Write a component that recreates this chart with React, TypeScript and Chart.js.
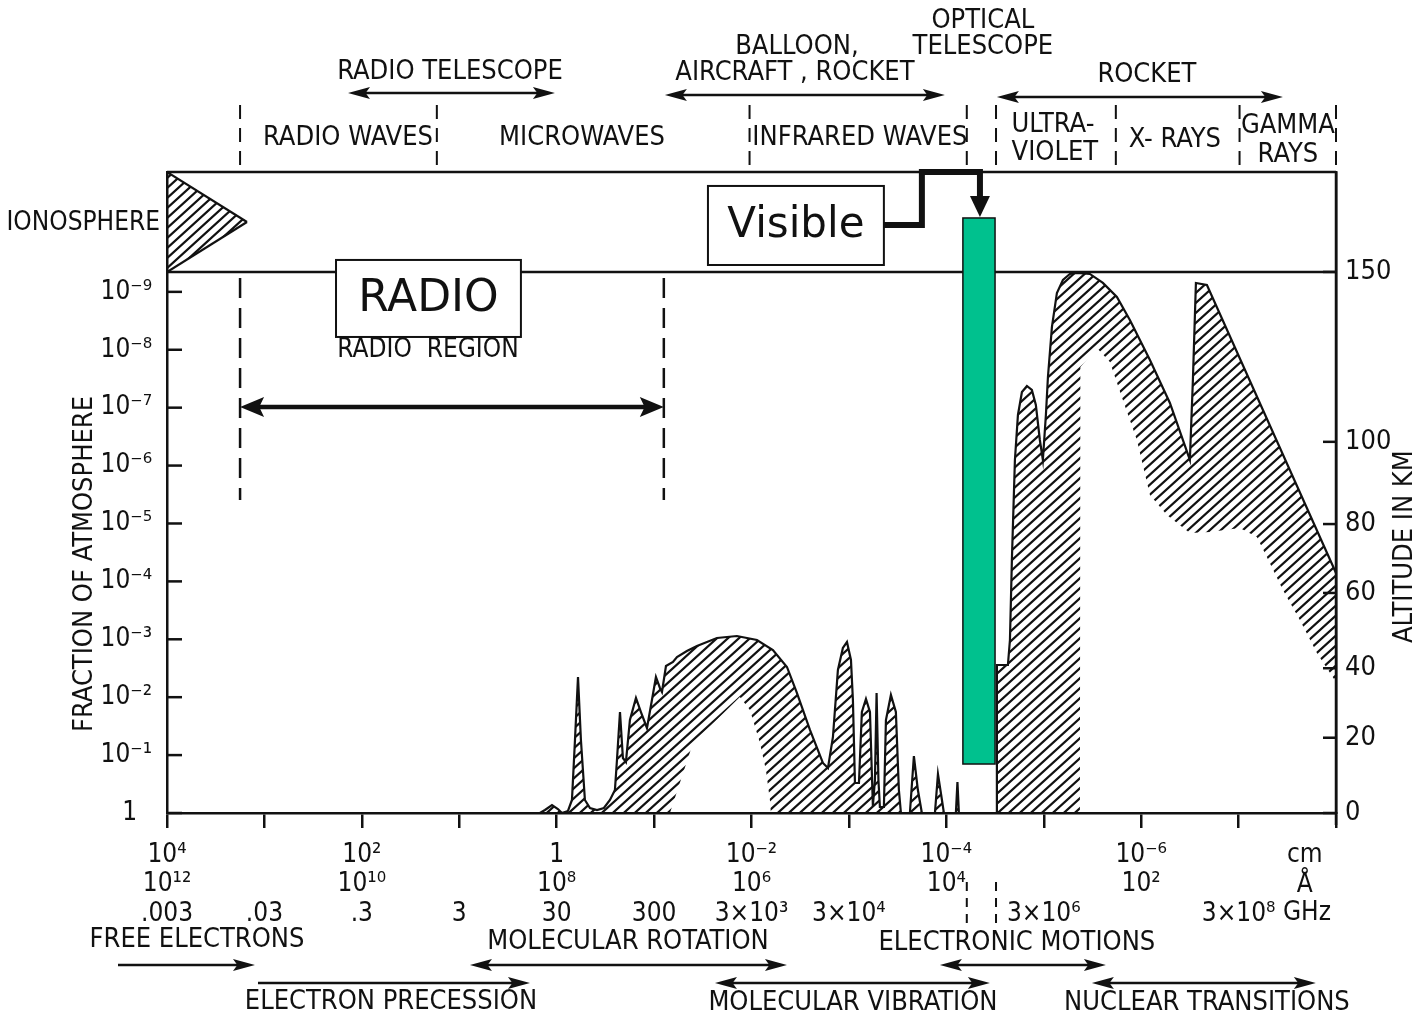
import React, { useEffect, useRef } from "react";
import { Chart, registerables } from "chart.js";

Chart.register(...registerables);

// x = log10(wavelength in cm), y = -log10(fraction of atmosphere above the absorbing layer)
const absorptionLogWavelength = [4.000, 0.172, 0.120, 0.048, -0.013, -0.054, -0.116, -0.157, -0.188, -0.219, -0.249, -0.290, -0.342, -0.414, -0.485, -0.547, -0.598, -0.619, -0.650, -0.680, -0.711, -0.752, -0.814, -0.865, -0.927, -0.978, -1.019, -1.060, -1.081, -1.122, -1.194, -1.235, -1.337, -1.440, -1.645, -1.850, -2.056, -2.220, -2.364, -2.466, -2.600, -2.733, -2.785, -2.836, -2.887, -2.938, -2.980, -3.021, -3.041, -3.062, -3.103, -3.133, -3.175, -3.216, -3.246, -3.267, -3.284, -3.303, -3.318, -3.359, -3.380, -3.431, -3.482, -3.513, -3.534, -3.626, -3.667, -3.708, -3.749, -3.883, -3.914, -3.955, -3.975, -4.098, -4.114, -4.129, -4.514, -4.519, -4.550, -4.632, -4.653, -4.673, -4.704, -4.735, -4.776, -4.827, -4.878, -4.919, -4.960, -4.991, -5.022, -5.043, -5.084, -5.135, -5.197, -5.268, -5.340, -5.474, -5.607, -5.751, -5.884, -6.090, -6.295, -6.500, -6.531, -6.562, -6.675, -8.000];
const absorptionDepth = [0, 0, 0.052, 0.138, 0.069, 0, 0.035, 0.225, 1.261, 2.349, 1.261, 0.225, 0.086, 0.052, 0.086, 0.225, 0.397, 0.915, 1.744, 0.950, 0.881, 1.606, 1.986, 1.744, 1.468, 1.952, 2.349, 2.159, 2.090, 2.539, 2.608, 2.694, 2.798, 2.884, 3.022, 3.057, 2.988, 2.815, 2.522, 2.073, 1.434, 0.864, 0.777, 1.313, 2.470, 2.850, 2.953, 2.642, 1.952, 0.518, 0.518, 1.744, 1.969, 1.744, 0.121, 0.570, 2.073, 0.570, 0.104, 0.104, 1.606, 2.038, 1.744, 0.397, 0, 0, 0.984, 0.397, 0, 0, 0.674, 0.225, 0, 0, 0.535, 0, 0, 2.556, 2.556, 2.556, 2.988, 4.370, 6.097, 6.874, 7.271, 7.375, 7.306, 7.047, 6.442, 6.097, 6.874, 7.530, 8.394, 8.981, 9.206, 9.309, 9.327, 9.309, 9.154, 8.912, 8.515, 7.824, 7.081, 6.097, 7.478, 9.154, 9.119, 4.145];

// lower edge of the hatched band (where hatching stops)
const hatchBottomLogWavelength = [4.000, -1.163, -1.399, -1.881, -1.984, -2.087, -2.148, -2.189, -2.199, -5.371, -5.376, -5.546, -5.679, -5.812, -5.956, -6.090, -6.264, -6.500, -6.705, -7.013, -7.188, -7.290, -7.455, -7.629, -7.804, -8.000];
const hatchBottomDepth = [0, 0, 1.209, 2.003, 1.779, 1.209, 0.743, 0.225, 0, 0, 7.703, 8.031, 7.789, 7.133, 6.442, 5.492, 5.147, 4.836, 4.853, 4.922, 4.767, 4.421, 3.851, 3.333, 2.763, 2.263];

// ionosphere wedge
const ionosphereLogWavelength = [4.0, 3.179];
const ionosphereTopDepth = [11.07, 10.207];
const ionosphereBottomDepth = [9.344, 10.207];

// visible window
const visibleLogWavelength = [-4.17, -4.50];
const visibleDepth = [0.846, 10.276];

// axes
const depthMax = 11.07;
const depthAt150km = 9.344;
const xTickValues = [4, 3, 2, 1, 0, -1, -2, -3, -4, -5, -6, -7, -8];
const cmLabels = ["10⁴", "", "10²", "", "1", "", "10⁻²", "", "10⁻⁴", "", "10⁻⁶", "", ""];
const angstromLabels = ["10¹²", "", "10¹⁰", "", "10⁸", "", "10⁶", "", "10⁴", "", "10²", "", ""];
const ghzLabels = [".003", ".03", ".3", "3", "30", "300", "3×10³", "3×10⁴", "", "3×10⁶", "", "3×10⁸", ""];
const fractionTickDepth = [0, 1, 2, 3, 4, 5, 6, 7, 8, 9];
const fractionLabels = ["1\u2007", "10⁻¹", "10⁻²", "10⁻³", "10⁻⁴", "10⁻⁵", "10⁻⁶", "10⁻⁷", "10⁻⁸", "10⁻⁹"];
const altitudeLabels = ["0", "20", "40", "60", "80", "100", "150"];
const altitudeDepth = [0, 1.30, 2.50, 3.80, 4.99, 6.41, 9.344];

// annotations (x in log10 cm, y in page pixels for text outside the plot)
const topTexts = [
  { t: "RADIO TELESCOPE", v: 1.095, y: 72 },
  { t: "BALLOON,", v: -2.466, y: 47 },
  { t: "AIRCRAFT , ROCKET", v: -2.446, y: 73 },
  { t: "OPTICAL", v: -4.375, y: 21 },
  { t: "TELESCOPE", v: -4.375, y: 47 },
  { t: "ROCKET", v: -6.059, y: 75 },
  { t: "RADIO WAVES", v: 2.142, y: 138 },
  { t: "MICROWAVES", v: -0.26, y: 138 },
  { t: "INFRARED WAVES", v: -3.113, y: 138 },
  { t: "ULTRA-", v: -5.094, y: 125 },
  { t: "VIOLET", v: -5.114, y: 153 },
  { t: "X- RAYS", v: -6.346, y: 140 },
  { t: "GAMMA", v: -7.506, y: 126 },
  { t: "RAYS", v: -7.506, y: 155 },
];
const topArrows = [
  { a: 2.142, b: 0.018, y: 93 },
  { a: -1.111, b: -3.985, y: 95 },
  { a: -4.519, b: -7.455, y: 97 },
];
const bandDividers = [3.25, 1.23, -1.98, -4.21, -4.51, -5.74, -7.01, -8.0];
const bottomTexts = [
  { t: "FREE ELECTRONS", v: 3.692, y: 940 },
  { t: "ELECTRON PRECESSION", v: 1.701, y: 1002 },
  { t: "MOLECULAR ROTATION", v: -0.732, y: 942 },
  { t: "MOLECULAR VIBRATION", v: -3.041, y: 1003 },
  { t: "ELECTRONIC MOTIONS", v: -4.724, y: 943 },
  { t: "NUCLEAR TRANSITIONS", v: -6.675, y: 1003 },
];
const bottomArrows = [
  { a: 4.503, b: 3.097, y: 965, l: false, r: true },
  { a: 3.066, b: 0.274, y: 983, l: false, r: true },
  { a: 0.89, b: -2.364, y: 965, l: true, r: true },
  { a: -1.625, b: -4.447, y: 983, l: true, r: true },
  { a: -3.934, b: -5.638, y: 965, l: true, r: true },
  { a: -5.494, b: -7.793, y: 983, l: true, r: true },
];

const FONT = "'Liberation Sans Narrow', 'Arial Narrow', 'DejaVu Sans Condensed', sans-serif";
const BOX_FONT = "'DejaVu Sans', Verdana, sans-serif";
const INK = "#111";
const GREEN = "#00C18E";

const pts = (xs: number[], ys: number[]) => xs.slice(0, Math.min(xs.length, ys.length)).map((x, i) => ({ x, y: ys[i] }));

function makeHatch(): CanvasPattern | string {
  const w = 11, h = 10;
  const c = document.createElement("canvas");
  c.width = w; c.height = h;
  const g = c.getContext("2d");
  if (!g) return "rgba(0,0,0,0.3)";
  g.strokeStyle = INK;
  g.lineWidth = 2.2;
  g.beginPath();
  g.moveTo(-w, 2 * h); g.lineTo(2 * w, -h);
  g.moveTo(-w, h); g.lineTo(w, -h);
  g.moveTo(0, 2 * h); g.lineTo(2 * w, 0);
  g.stroke();
  return g.createPattern(c, "repeat") || "rgba(0,0,0,0.3)";
}

function text(ctx: CanvasRenderingContext2D, s: string, x: number, y: number, size: number, align: CanvasTextAlign = "center", family = FONT) {
  ctx.font = `${size}px ${family}`;
  ctx.textAlign = align;
  ctx.textBaseline = "middle";
  ctx.fillStyle = INK;
  ctx.fillText(s, x, y);
}

function hArrow(ctx: CanvasRenderingContext2D, x1: number, x2: number, y: number, lw: number, left: boolean, right: boolean, hl = 22, hw = 6) {
  ctx.save();
  ctx.strokeStyle = INK; ctx.fillStyle = INK; ctx.lineWidth = lw;
  ctx.beginPath();
  ctx.moveTo(left ? x1 + hl * 0.7 : x1, y);
  ctx.lineTo(right ? x2 - hl * 0.7 : x2, y);
  ctx.stroke();
  if (left) {
    ctx.beginPath(); ctx.moveTo(x1, y); ctx.lineTo(x1 + hl, y - hw); ctx.lineTo(x1 + hl * 0.8, y); ctx.lineTo(x1 + hl, y + hw); ctx.closePath(); ctx.fill();
  }
  if (right) {
    ctx.beginPath(); ctx.moveTo(x2, y); ctx.lineTo(x2 - hl, y - hw); ctx.lineTo(x2 - hl * 0.8, y); ctx.lineTo(x2 - hl, y + hw); ctx.closePath(); ctx.fill();
  }
  ctx.restore();
}

function vDash(ctx: CanvasRenderingContext2D, x: number, y1: number, y2: number, dash: number[], lw = 2) {
  ctx.save();
  ctx.strokeStyle = INK; ctx.lineWidth = lw; ctx.setLineDash(dash);
  ctx.beginPath(); ctx.moveTo(x, y1); ctx.lineTo(x, y2); ctx.stroke();
  ctx.restore();
}

const annotationPlugin = {
  id: "spectrumAnnotations",
  afterDraw(chart: any) {
    const ctx: CanvasRenderingContext2D = chart.ctx;
    const xs = chart.scales.x, ys = chart.scales.y;
    const X = (v: number) => xs.getPixelForValue(v);
    const Y = (u: number) => ys.getPixelForValue(u);
    const { left, right, top, bottom } = chart.chartArea;
    ctx.save();
    ctx.strokeStyle = INK;

    // frame: top of ionosphere panel and 150 km line
    ctx.lineWidth = 2.5;
    ctx.beginPath(); ctx.moveTo(left, top); ctx.lineTo(right, top); ctx.stroke();
    ctx.beginPath(); ctx.moveTo(left, Y(depthAt150km)); ctx.lineTo(right, Y(depthAt150km)); ctx.stroke();
    ctx.beginPath(); ctx.moveTo(right, top); ctx.lineTo(right, bottom + 12); ctx.stroke();

    // inward ticks
    ctx.lineWidth = 2.5;
    fractionTickDepth.forEach((u) => { ctx.beginPath(); ctx.moveTo(left, Y(u)); ctx.lineTo(left + 15, Y(u)); ctx.stroke(); });
    altitudeDepth.forEach((u) => { ctx.beginPath(); ctx.moveTo(right, Y(u)); ctx.lineTo(right - 13, Y(u)); ctx.stroke(); });

    // axis titles
    ctx.save(); ctx.translate(85, Y(4.3)); ctx.rotate(-Math.PI / 2); text(ctx, "FRACTION OF ATMOSPHERE", 0, 0, 27); ctx.restore();
    ctx.save(); ctx.translate(1405, Y(4.6)); ctx.rotate(-Math.PI / 2); text(ctx, "ALTITUDE IN KM", 0, 0, 27); ctx.restore();

    // top labels, arrows, band dividers
    topTexts.forEach((o) => text(ctx, o.t, X(o.v), o.y, 27));
    topArrows.forEach((o) => hArrow(ctx, X(o.a), X(o.b), o.y, 2.5, true, true));
    bandDividers.forEach((v) => vDash(ctx, X(v), 105, top, [14, 9]));

    text(ctx, "IONOSPHERE", left - 7, Y(10.19), 26, "right");

    // radio region
    vDash(ctx, X(3.25), Y(9.24), Y(5.406), [20, 10], 2.5);
    vDash(ctx, X(-1.10), Y(9.24), Y(5.406), [20, 10], 2.5);
    text(ctx, "RADIO  REGION", X(1.321), Y(7.997), 26);
    hArrow(ctx, X(3.25), X(-1.10), Y(7.012), 4.5, true, true, 24, 10);

    // RADIO box
    const rx1 = X(2.265), rx2 = X(0.367), ry1 = Y(9.551), ry2 = Y(8.221);
    ctx.fillStyle = "#fff"; ctx.fillRect(rx1, ry1, rx2 - rx1, ry2 - ry1);
    ctx.lineWidth = 2; ctx.strokeRect(rx1, ry1, rx2 - rx1, ry2 - ry1);
    text(ctx, "RADIO", (rx1 + rx2) / 2, (ry1 + ry2) / 2 + 1, 44, "center", BOX_FONT);

    // visible window bar
    const gx1 = X(visibleLogWavelength[0]), gx2 = X(visibleLogWavelength[1]);
    const gy1 = Y(visibleDepth[1]), gy2 = Y(visibleDepth[0]);
    ctx.fillStyle = GREEN; ctx.fillRect(gx1, gy1, gx2 - gx1, gy2 - gy1);
    ctx.lineWidth = 1.5; ctx.strokeStyle = INK; ctx.strokeRect(gx1, gy1, gx2 - gx1, gy2 - gy1);

    // Visible box + connector
    const vx1 = X(-1.553), vx2 = X(-3.359), vy1 = Y(10.829), vy2 = Y(9.464);
    ctx.fillStyle = "#fff"; ctx.fillRect(vx1, vy1, vx2 - vx1, vy2 - vy1);
    ctx.lineWidth = 2; ctx.strokeRect(vx1, vy1, vx2 - vx1, vy2 - vy1);
    text(ctx, "Visible", (vx1 + vx2) / 2, (vy1 + vy2) / 2 + 1, 42, "center", BOX_FONT);
    const cx = X(-3.749), ax = X(-4.345);
    ctx.lineWidth = 6; ctx.lineJoin = "miter";
    ctx.beginPath();
    ctx.moveTo(vx2, Y(10.155)); ctx.lineTo(cx, Y(10.155)); ctx.lineTo(cx, top); ctx.lineTo(ax, top); ctx.lineTo(ax, gy1 - 18);
    ctx.stroke();
    ctx.fillStyle = INK;
    ctx.beginPath(); ctx.moveTo(ax - 10, gy1 - 22); ctx.lineTo(ax + 10, gy1 - 22); ctx.lineTo(ax, gy1 - 1); ctx.closePath(); ctx.fill();

    // units and bottom annotations
    text(ctx, "cm", X(-7.68), 855, 26);
    text(ctx, "Å", X(-7.68), 885, 26);
    text(ctx, "GHz", X(-7.455), 913, 26, "left");
    vDash(ctx, X(-4.21), 882, 926, [9, 7]);
    vDash(ctx, X(-4.51), 882, 926, [9, 7]);
    bottomTexts.forEach((o) => text(ctx, o.t, X(o.v), o.y, 27));
    bottomArrows.forEach((o) => hArrow(ctx, X(o.a), X(o.b), o.y, 2.5, o.l, o.r));

    ctx.restore();
  },
};

export default function App() {
  const ref = useRef<HTMLCanvasElement | null>(null);
  useEffect(() => {
    if (!ref.current) return;
    const hatch = makeHatch();
    const line = { pointRadius: 0, tension: 0, borderColor: INK, borderWidth: 2.2 };
    const chart = new Chart(ref.current, {
      type: "line",
      data: {
        datasets: [
          { ...line, label: "hatch bottom", data: pts(hatchBottomLogWavelength, hatchBottomDepth), borderColor: "rgba(0,0,0,0)", borderWidth: 1, fill: false },
          { ...line, label: "absorption", data: pts(absorptionLogWavelength, absorptionDepth), fill: { target: 0 }, backgroundColor: hatch },
          { ...line, label: "ionosphere low", data: pts(ionosphereLogWavelength, ionosphereBottomDepth), fill: false },
          { ...line, label: "ionosphere top", data: pts(ionosphereLogWavelength, ionosphereTopDepth), fill: { target: 2 }, backgroundColor: hatch },
        ],
      } as any,
      options: {
        responsive: false,
        animation: false,
        events: [],
        layout: { padding: { top: 172, left: 0, right: 0, bottom: 0 } },
        plugins: { legend: { display: false }, tooltip: { enabled: false } },
        scales: {
          x: {
            type: "linear", reverse: true, min: -8, max: 4,
            afterBuildTicks: (s: any) => { s.ticks = xTickValues.map((value) => ({ value })); },
            afterFit: (s: any) => { s.height = 204; },
            grid: { drawOnChartArea: false, drawTicks: true, tickLength: 15, color: INK, lineWidth: 2.5 },
            border: { display: true, color: INK, width: 2.5 },
            ticks: {
              autoSkip: false, maxRotation: 0, minRotation: 0, padding: 13, color: INK,
              font: { family: FONT, size: 26, lineHeight: 1.12 },
              callback: (v: any) => { const i = xTickValues.indexOf(Number(v)); return i < 0 ? "" : [cmLabels[i], angstromLabels[i], ghzLabels[i]]; },
            },
          },
          y: {
            type: "linear", position: "left", min: 0, max: depthMax,
            afterBuildTicks: (s: any) => { s.ticks = fractionTickDepth.map((value) => ({ value })); },
            afterFit: (s: any) => { s.width = 167; },
            grid: { drawOnChartArea: false, drawTicks: false },
            border: { display: true, color: INK, width: 2.5 },
            ticks: {
              padding: 15, color: INK, font: { family: FONT, size: 26 },
              callback: (v: any) => { const i = fractionTickDepth.indexOf(Number(v)); return i < 0 ? "" : fractionLabels[i]; },
            },
          },
          y2: {
            type: "linear", position: "right", min: 0, max: depthMax,
            afterBuildTicks: (s: any) => { s.ticks = altitudeDepth.map((value) => ({ value })); },
            afterFit: (s: any) => { s.width = 84; },
            grid: { drawOnChartArea: false, drawTicks: false },
            border: { display: true, color: INK, width: 2.5 },
            ticks: {
              padding: 9, color: INK, font: { family: FONT, size: 27 },
              callback: (v: any) => { const i = altitudeDepth.indexOf(Number(v)); return i < 0 ? "" : altitudeLabels[i]; },
            },
          },
        },
      } as any,
      plugins: [annotationPlugin],
    });
    return () => chart.destroy();
  }, []);
  return (
    <div style={{ position: "fixed", left: 0, top: 0, width: 1420, height: 1017, background: "#fff" }}>
      <canvas ref={ref} width={1420} height={1017} style={{ display: "block" }} />
    </div>
  );
}
